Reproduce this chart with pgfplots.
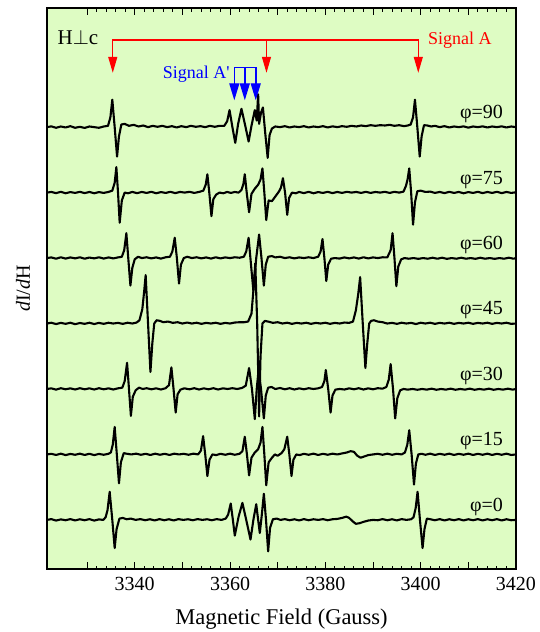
\documentclass[border=0pt]{standalone}
\usepackage{pgfplots}
\pgfplotsset{compat=1.18}
\usepackage{fontspec}
\setmainfont{Liberation Serif}
\usetikzlibrary{arrows.meta}
\definecolor{bg}{RGB}{222,252,195}
\begin{document}
\begin{tikzpicture}
\begin{axis}[
 scale only axis, width=469pt, height=561pt,
 xmin=3321.6, xmax=3420, ymin=-0.75, ymax=7.82,
 axis background/.style={fill=bg},
 axis line style={line width=1.3pt},
 xtick={3330,3340,...,3420},
 xticklabels={,3340,,3360,,3380,,3400,,3420},
 minor x tick num=4,
 tick align=inside,
 major tick length=7pt, minor tick length=3.5pt,
 every tick/.style={black, line width=1pt},
 ytick=\empty,
 xticklabel style={font=\fontsize{20}{24}\selectfont, yshift=-5pt},
 /pgf/number format/assume math mode=true,
 xlabel={Magnetic Field (Gauss)},
 xlabel style={font=\fontsize{22.5}{27}\selectfont, at={(axis description cs:0.5,-0.0891)}, anchor=center},
 ylabel={\textit{d}I/\textit{d}H},
 ylabel style={font=\fontsize{20}{24}\selectfont, at={(axis description cs:-0.0512,0.5)}, anchor=center},
 clip=true,
 trace/.style={black, line width=2.1pt, line join=round},
]
% phi = 90
\addplot[trace, y filter/.expression={y+6}] coordinates {
(3321.6,0.00)(3322.5,0.012)(3323.5,-0.01)(3324.5,0.01)(3325.5,-0.005)(3326.5,0.015)(3327.5,-0.01)(3328.5,0.005)(3329.5,-0.012)(3330.5,0.01)(3331.5,0.0)(3332.5,-0.01)(3333.5,0.01)(3334.4,0.02)(3334.9,0.15)(3335.3,0.42)(3335.8,0.0)(3336.3,-0.45)(3336.7,-0.14)(3337.2,0.04)(3337.9,0.05)(3338.8,0.02)(3339.8,0.035)(3340.8,0.01)(3341.8,0.025)(3342.8,0.0)(3343.8,0.02)(3344.8,0.005)(3345.8,0.02)(3346.8,0.0)(3347.8,0.015)(3348.8,-0.005)(3349.8,0.015)(3350.8,0.0)(3351.8,0.02)(3352.8,0.005)(3353.8,0.015)(3354.8,0.0)(3355.8,0.02)(3356.8,0.005)(3357.8,0.02)(3358.8,0.02)(3359.4,0.09)(3359.9,0.26)(3360.5,0.0)(3361.1,-0.24)(3361.7,0.05)(3362.4,0.28)(3363.2,0.02)(3363.9,-0.22)(3364.5,0.02)(3365.2,0.26)(3365.6,0.10)(3365.9,0.5)(3366.1,0.05)(3366.5,0.22)(3366.9,0.30)(3367.4,-0.1)(3367.9,-0.47)(3368.3,-0.12)(3368.8,-0.02)(3369.5,0.01)(3370.5,0.0)(3371.5,0.015)(3372.5,-0.005)(3373.5,0.01)(3374.5,0.0)(3375.5,0.015)(3376.5,-0.005)(3377.5,0.01)(3378.5,0.0)(3379.5,0.015)(3380.5,-0.005)(3381.5,0.012)(3382.5,0.0)(3383.5,0.015)(3384.5,0.005)(3385.5,0.02)(3386.5,0.01)(3387.5,0.025)(3388.5,0.015)(3389.5,0.03)(3390.5,0.02)(3391.5,0.03)(3392.5,0.025)(3393.5,0.035)(3394.5,0.02)(3395.5,0.03)(3396.5,0.015)(3397.3,0.025)(3397.9,0.04)(3398.4,0.15)(3398.8,0.42)(3399.3,0.0)(3399.8,-0.45)(3400.2,-0.14)(3400.7,0.03)(3401.4,0.025)(3402.2,0.01)(3403,0.02)(3404,0.0)(3405,0.015)(3406,-0.005)(3407,0.01)(3408,0.0)(3409,0.012)(3410,-0.008)(3411,0.01)(3412,0.0)(3413,0.012)(3414,-0.005)(3415,0.01)(3416,0.0)(3417,0.012)(3418,-0.005)(3419,0.01)(3420,0.0)
};
% phi = 75
\addplot[trace, y filter/.expression={y+5}] coordinates {
(3321.6,0.0)(3322.5,0.01)(3323.5,-0.008)(3324.5,0.012)(3325.5,-0.01)(3326.5,0.008)(3327.5,-0.005)(3328.5,0.012)(3329.5,-0.008)(3330.5,0.01)(3331.5,-0.01)(3332.5,0.008)(3333.5,-0.005)(3334.5,0.01)(3335.3,0.03)(3335.8,0.15)(3336.15,0.39)(3336.5,0.0)(3336.85,-0.46)(3337.3,-0.12)(3337.9,0.0)(3338.6,-0.01)(3339.5,0.01)(3340.5,-0.008)(3341.5,0.01)(3342.5,-0.005)(3343.5,0.012)(3344.5,-0.01)(3345.5,0.008)(3346.5,-0.005)(3347.5,0.012)(3348.5,-0.008)(3349.5,0.01)(3350.5,0.0)(3351.5,0.012)(3352.5,-0.005)(3353.5,0.01)(3354.4,0.03)(3354.9,0.12)(3355.25,0.28)(3355.65,0.0)(3356.1,-0.36)(3356.5,-0.1)(3357.1,-0.03)(3357.8,0.0)(3358.6,-0.01)(3359.4,0.01)(3360.2,-0.005)(3361,0.01)(3361.8,0.0)(3362.4,0.04)(3362.8,0.13)(3363.1,0.28)(3363.5,0.0)(3364.0,-0.30)(3364.5,-0.02)(3365.2,0.06)(3365.9,0.12)(3366.4,0.2)(3366.8,0.37)(3367.2,0.0)(3367.6,-0.42)(3368.1,-0.12)(3368.8,-0.13)(3369.6,-0.05)(3370.3,0.02)(3370.7,0.08)(3371.1,0.22)(3371.55,0.0)(3372.0,-0.34)(3372.4,-0.08)(3373.0,0.0)(3373.8,-0.01)(3374.5,0.01)(3375.5,-0.008)(3376.5,0.012)(3377.5,-0.01)(3378.5,0.008)(3379.5,-0.005)(3380.5,0.012)(3381.5,-0.008)(3382.5,0.01)(3383.5,-0.005)(3384.5,0.012)(3385.5,0.0)(3386.5,0.01)(3387.5,-0.005)(3388.5,0.012)(3389.5,-0.005)(3390.5,0.01)(3391.5,0.0)(3392.5,0.012)(3393.5,-0.005)(3394.5,0.012)(3395.5,0.0)(3396.4,0.015)(3396.9,0.1)(3397.25,0.2)(3397.6,0.37)(3398.0,0.0)(3398.4,-0.49)(3398.8,-0.15)(3399.3,0.02)(3400,0.03)(3401,0.01)(3402,0.015)(3403,-0.005)(3404,0.01)(3405,-0.008)(3406,0.012)(3407,-0.005)(3408,0.01)(3409,-0.01)(3410,0.008)(3411,-0.005)(3412,0.012)(3413,-0.008)(3414,0.01)(3415,-0.005)(3416,0.012)(3417,-0.008)(3418,0.01)(3419,-0.005)(3420,0.005)
};
% phi = 60
\addplot[trace, y filter/.expression={y+4}] coordinates {
(3321.6,0.0)(3322.5,0.01)(3323.5,-0.01)(3324.5,0.012)(3325.5,-0.008)(3326.5,0.01)(3327.5,-0.005)(3328.5,0.012)(3329.5,-0.01)(3330.5,0.008)(3331.5,-0.005)(3332.5,0.012)(3333.5,-0.008)(3334.5,0.01)(3335.5,-0.005)(3336.5,0.01)(3337.3,0.02)(3337.8,0.12)(3338.25,0.38)(3338.65,0.0)(3339.1,-0.42)(3339.5,-0.15)(3340.0,-0.02)(3340.7,0.02)(3341.5,0.0)(3342.5,0.012)(3343.5,-0.005)(3344.5,0.01)(3345.5,-0.008)(3346.5,0.012)(3347.4,0.02)(3347.9,0.1)(3348.4,0.31)(3348.85,0.0)(3349.3,-0.39)(3349.7,-0.1)(3350.3,0.0)(3351,0.02)(3352,0.0)(3353,0.012)(3354,-0.005)(3355,0.01)(3356,-0.008)(3357,0.012)(3358,-0.005)(3359,0.01)(3360,0.0)(3361,0.012)(3362,0.005)(3362.9,0.02)(3363.4,0.1)(3363.9,0.31)(3364.4,-0.1)(3364.9,-0.5)(3365.5,0.0)(3366.1,0.36)(3366.6,0.0)(3367.1,-0.42)(3367.5,-0.1)(3368.0,0.02)(3368.8,0.03)(3369.5,0.01)(3370.5,0.02)(3371.5,0.0)(3372.5,0.012)(3373.5,-0.005)(3374.5,0.01)(3375.5,0.0)(3376.5,0.012)(3377.5,0.0)(3378.5,0.02)(3379.0,0.1)(3379.4,0.29)(3379.8,0.0)(3380.2,-0.35)(3380.6,-0.1)(3381.2,-0.01)(3382,0.0)(3383,-0.008)(3384,0.01)(3385,-0.005)(3386,0.01)(3387,-0.008)(3388,0.012)(3389,-0.005)(3390,0.01)(3391,0.0)(3392,0.012)(3393,0.01)(3393.7,0.12)(3394.1,0.38)(3394.5,0.0)(3394.9,-0.43)(3395.3,-0.13)(3395.9,-0.02)(3396.6,0.0)(3397.5,-0.01)(3398.5,0.0)(3399.5,-0.012)(3400.5,0.0)(3401.5,-0.01)(3402.5,0.005)(3403.5,-0.01)(3404.5,0.005)(3405.5,-0.012)(3406.5,0.0)(3407.5,-0.01)(3408.5,0.005)(3409.5,-0.01)(3410.5,0.0)(3411.5,-0.012)(3412.5,0.005)(3413.5,-0.01)(3414.5,0.0)(3415.5,-0.012)(3416.5,0.0)(3417.5,-0.01)(3418.5,0.005)(3419.5,-0.01)(3420,0.0)
};
% phi = 45
\addplot[trace, y filter/.expression={y+3}] coordinates {
(3321.6,0.0)(3322.5,0.012)(3323.5,-0.008)(3324.5,0.01)(3325.5,-0.005)(3326.5,0.012)(3327.5,-0.01)(3328.5,0.008)(3329.5,-0.005)(3330.5,0.012)(3331.5,-0.008)(3332.5,0.01)(3333.5,-0.005)(3334.5,0.012)(3335.5,0.0)(3336.5,0.01)(3337.5,-0.005)(3338.5,0.012)(3339.5,0.0)(3340.4,0.015)(3341.0,0.05)(3341.6,0.22)(3342.0,0.5)(3342.3,0.74)(3342.8,0.0)(3343.3,-0.74)(3343.7,-0.3)(3344.1,0.0)(3344.6,0.05)(3345.3,0.04)(3346,0.02)(3347,0.03)(3348,0.01)(3349,0.02)(3350,0.0)(3351,0.015)(3352,0.0)(3353,0.012)(3354,-0.005)(3355,0.01)(3356,0.0)(3357,0.012)(3358,-0.005)(3359,0.01)(3360,0.0)(3361,0.015)(3362,0.02)(3363,0.02)(3363.8,0.03)(3364.5,0.15)(3364.9,0.5)(3365.3,0.92)(3365.7,0.0)(3366.1,-1.42)(3366.4,-0.5)(3366.8,0.0)(3367.3,0.04)(3368,0.03)(3369,0.01)(3370,0.02)(3371,0.0)(3372,0.012)(3373,-0.005)(3374,0.01)(3375,0.0)(3376,0.012)(3377,-0.005)(3378,0.01)(3379,0.0)(3380,0.012)(3381,-0.005)(3382,0.01)(3383,0.0)(3384,0.015)(3385,0.01)(3385.8,0.03)(3386.4,0.2)(3386.9,0.45)(3387.3,0.71)(3387.85,0.0)(3388.4,-0.68)(3388.8,-0.3)(3389.2,0.0)(3389.6,0.04)(3390.2,0.05)(3391,0.03)(3392,0.02)(3393,0.0)(3394,0.01)(3395,-0.005)(3396,0.012)(3397,0.0)(3398,0.01)(3399,-0.008)(3400,0.012)(3401,0.0)(3402,0.012)(3403,-0.005)(3404,0.01)(3405,0.0)(3406,0.012)(3407,-0.005)(3408,0.01)(3409,0.0)(3410,0.012)(3411,-0.005)(3412,0.01)(3413,0.0)(3414,0.012)(3415,-0.005)(3416,0.01)(3417,0.0)(3418,0.012)(3419,-0.005)(3420,0.0)
};
% phi = 30
\addplot[trace, y filter/.expression={y+2}] coordinates {
(3321.6,0.0)(3322.5,0.01)(3323.5,-0.01)(3324.5,0.012)(3325.5,-0.005)(3326.5,0.01)(3327.5,-0.008)(3328.5,0.012)(3329.5,-0.005)(3330.5,0.01)(3331.5,-0.008)(3332.5,0.012)(3333.5,-0.005)(3334.5,0.01)(3335.5,-0.008)(3336.5,0.01)(3337.4,0.02)(3337.9,0.12)(3338.4,0.40)(3338.8,0.0)(3339.2,-0.41)(3339.6,-0.12)(3340.2,-0.02)(3340.9,0.02)(3341.7,0.0)(3342.5,0.012)(3343.5,-0.005)(3344.5,0.01)(3345.5,-0.008)(3346.5,0.012)(3347.2,0.06)(3347.7,0.33)(3348.15,0.0)(3348.6,-0.36)(3349.0,-0.08)(3349.6,-0.01)(3350.4,0.01)(3351.5,-0.005)(3352.5,0.012)(3353.5,-0.008)(3354.5,0.01)(3355.5,-0.005)(3356.5,0.012)(3357.5,-0.008)(3358.5,0.01)(3359.5,0.0)(3360.5,0.012)(3361.5,0.0)(3362.5,0.015)(3363.3,0.05)(3364.0,0.32)(3364.6,0.0)(3365.2,-0.46)(3365.6,0.0)(3366.0,0.3)(3366.5,0.0)(3367.1,-0.45)(3367.5,-0.1)(3368.0,0.02)(3368.7,0.03)(3369.5,0.0)(3370.5,0.015)(3371.5,-0.005)(3372.5,0.012)(3373.5,-0.008)(3374.5,0.01)(3375.5,-0.005)(3376.5,0.012)(3377.5,0.0)(3378.5,0.01)(3379.3,0.03)(3379.8,0.12)(3380.1,0.29)(3380.6,0.0)(3381.1,-0.36)(3381.5,-0.1)(3382.1,-0.01)(3383,0.0)(3384,-0.008)(3385,0.01)(3386,-0.005)(3387,0.012)(3388,-0.008)(3389,0.01)(3390,-0.005)(3391,0.012)(3392,0.005)(3392.8,0.03)(3393.3,0.14)(3393.7,0.38)(3394.2,0.0)(3394.65,-0.45)(3395.1,-0.14)(3395.7,-0.02)(3396.4,0.0)(3397.3,-0.01)(3398.3,0.0)(3399.3,-0.012)(3400.3,0.0)(3401.3,-0.01)(3402.3,0.005)(3403.3,-0.012)(3404.3,0.0)(3405.3,-0.01)(3406.3,0.005)(3407.3,-0.012)(3408.3,0.0)(3409.3,-0.01)(3410.3,0.005)(3411.3,-0.012)(3412.3,0.0)(3413.3,-0.01)(3414.3,0.005)(3415.3,-0.012)(3416.3,0.0)(3417.3,-0.01)(3418.3,0.005)(3419.3,-0.01)(3420,0.0)
};
% phi = 15
\addplot[trace, y filter/.expression={y+1}] coordinates {
(3321.6,0.0)(3322.5,0.01)(3323.5,-0.008)(3324.5,0.012)(3325.5,-0.01)(3326.5,0.008)(3327.5,-0.005)(3328.5,0.012)(3329.5,-0.008)(3330.5,0.01)(3331.5,-0.01)(3332.5,0.008)(3333.5,-0.005)(3334.5,0.01)(3335.0,0.03)(3335.4,0.15)(3335.8,0.42)(3336.25,0.0)(3336.7,-0.44)(3337.1,-0.12)(3337.7,0.02)(3338.4,0.01)(3339.3,0.0)(3340.3,0.012)(3341.3,-0.005)(3342.3,0.01)(3343.3,-0.008)(3344.3,0.012)(3345.3,-0.005)(3346.3,0.01)(3347.3,-0.008)(3348.3,0.012)(3349.3,0.0)(3350.3,0.01)(3351.3,-0.005)(3352.3,0.012)(3353.3,0.0)(3353.9,0.06)(3354.35,0.28)(3354.8,0.0)(3355.25,-0.33)(3355.7,-0.08)(3356.3,0.0)(3357.1,-0.01)(3358,0.01)(3359,-0.005)(3360,0.012)(3361,-0.005)(3362,0.01)(3362.6,0.05)(3363.1,0.27)(3363.55,0.0)(3364.0,-0.32)(3364.5,-0.05)(3365.2,0.03)(3365.9,0.08)(3366.4,0.18)(3366.8,0.42)(3367.2,0.0)(3367.6,-0.47)(3368.1,-0.12)(3368.8,-0.05)(3369.4,0.0)(3370.0,-0.02)(3370.8,0.02)(3371.4,0.08)(3372.0,0.27)(3372.45,0.0)(3372.9,-0.33)(3373.3,-0.08)(3373.9,0.0)(3374.6,-0.01)(3375.5,0.01)(3376.5,-0.005)(3377.5,0.012)(3378.5,-0.008)(3379.5,0.01)(3380.5,-0.005)(3381.5,0.012)(3382.5,0.0)(3383.5,0.015)(3384.5,0.03)(3385.3,0.05)(3386.0,0.04)(3386.7,-0.02)(3387.4,-0.05)(3388.2,-0.03)(3389,-0.01)(3390,0.0)(3391,0.01)(3392,-0.005)(3393,0.012)(3394,-0.005)(3395,0.01)(3396,0.0)(3396.7,0.03)(3397.2,0.15)(3397.6,0.37)(3398.1,0.0)(3398.6,-0.46)(3399.0,-0.14)(3399.5,0.0)(3400.2,0.01)(3401,-0.005)(3402,0.012)(3403,-0.008)(3404,0.01)(3405,-0.005)(3406,0.012)(3407,-0.008)(3408,0.01)(3409,-0.005)(3410,0.012)(3411,-0.008)(3412,0.01)(3413,-0.005)(3414,0.012)(3415,-0.008)(3416,0.01)(3417,-0.005)(3418,0.012)(3419,-0.008)(3420,0.0)
};
% phi = 0
\addplot[trace] coordinates {
(3321.6,0.0)(3322.5,0.012)(3323.5,-0.01)(3324.5,0.008)(3325.5,-0.005)(3326.5,0.012)(3327.5,-0.008)(3328.5,0.01)(3329.5,-0.005)(3330.5,0.012)(3331.5,-0.01)(3332.5,0.008)(3333.4,0.0)(3333.9,0.04)(3334.3,0.15)(3334.75,0.43)(3335.3,0.0)(3335.8,-0.43)(3336.2,-0.14)(3336.8,0.02)(3337.5,0.03)(3338.3,0.01)(3339.2,0.02)(3340.2,0.0)(3341.2,0.012)(3342.2,-0.005)(3343.2,0.01)(3344.2,-0.008)(3345.2,0.012)(3346.2,-0.005)(3347.2,0.01)(3348.2,-0.008)(3349.2,0.012)(3350.2,0.0)(3351.2,0.01)(3352.2,-0.005)(3353.2,0.012)(3354.2,0.0)(3355.2,0.01)(3356.2,-0.005)(3357.2,0.012)(3358.2,0.0)(3359.1,0.02)(3359.6,0.08)(3360.15,0.25)(3360.6,0.0)(3361.0,-0.24)(3361.8,0.05)(3362.6,0.26)(3363.4,0.0)(3364.3,-0.30)(3364.9,0.0)(3365.5,0.24)(3365.9,0.0)(3366.25,-0.20)(3366.7,0.1)(3367.1,0.40)(3367.55,0.0)(3368.0,-0.48)(3368.4,-0.12)(3369.0,0.01)(3369.8,0.02)(3370.6,0.0)(3371.5,0.012)(3372.5,-0.005)(3373.5,0.01)(3374.5,-0.008)(3375.5,0.012)(3376.5,-0.005)(3377.5,0.01)(3378.5,0.0)(3379.5,0.012)(3380.5,-0.005)(3381.5,0.01)(3382.5,0.015)(3383.5,0.03)(3384.4,0.05)(3385.0,0.03)(3385.7,-0.02)(3386.4,-0.06)(3387.2,-0.05)(3388,-0.03)(3389,-0.01)(3390,0.0)(3391,-0.005)(3392,0.012)(3393,-0.005)(3394,0.01)(3395,-0.008)(3396,0.012)(3397,0.0)(3398,0.01)(3398.5,0.04)(3398.95,0.18)(3399.35,0.43)(3399.85,0.0)(3400.4,-0.43)(3400.8,-0.14)(3401.3,0.02)(3402,0.01)(3403,-0.005)(3404,0.012)(3405,-0.008)(3406,0.01)(3407,-0.005)(3408,0.012)(3409,-0.008)(3410,0.01)(3411,-0.005)(3412,0.012)(3413,-0.008)(3414,0.01)(3415,-0.005)(3416,0.012)(3417,-0.008)(3418,0.01)(3419,-0.005)(3420,0.0)
};
% annotations
\draw[red, line width=1.2pt] (axis cs:3335.4,7.05) -- (axis cs:3335.4,7.33) -- (axis cs:3399.5,7.33) -- (axis cs:3399.5,7.05);
\draw[red, line width=1.2pt] (axis cs:3367.65,7.33) -- (axis cs:3367.65,7.05);
\draw[red, line width=1.2pt, -{Triangle[length=16pt,width=9pt]}] (axis cs:3335.4,7.10) -- (axis cs:3335.4,6.83);
\draw[red, line width=1.2pt, -{Triangle[length=16pt,width=9pt]}] (axis cs:3367.65,7.10) -- (axis cs:3367.65,6.83);
\draw[red, line width=1.2pt, -{Triangle[length=16pt,width=9pt]}] (axis cs:3399.5,7.10) -- (axis cs:3399.5,6.83);
\draw[blue, line width=1.6pt] (axis cs:3360.9,6.60) -- (axis cs:3360.9,6.91) -- (axis cs:3365.4,6.91) -- (axis cs:3365.4,6.60);
\draw[blue, line width=1.6pt] (axis cs:3363.1,6.91) -- (axis cs:3363.1,6.60);
\draw[blue, line width=1.2pt, -{Triangle[length=17pt,width=10pt]}] (axis cs:3360.9,6.66) -- (axis cs:3360.9,6.41);
\draw[blue, line width=1.2pt, -{Triangle[length=17pt,width=10pt]}] (axis cs:3363.1,6.66) -- (axis cs:3363.1,6.41);
\draw[blue, line width=1.2pt, -{Triangle[length=17pt,width=10pt]}] (axis cs:3365.4,6.66) -- (axis cs:3365.4,6.41);
\node[anchor=west, font=\fontsize{21}{25}\selectfont, inner sep=0pt] at (axis cs:3323.8,7.37) {H$\perp$c};
\node[anchor=west, red, font=\fontsize{18}{22}\selectfont, inner sep=0pt] at (axis cs:3401.5,7.33) {Signal A};
\node[anchor=east, blue, font=\fontsize{18}{22}\selectfont, inner sep=0pt] at (axis cs:3359.95,6.81) {Signal A\textquotesingle};
\node[anchor=east, font=\fontsize{20}{24}\selectfont, inner sep=0pt] at (axis cs:3417.3,6.20) {φ=90};
\node[anchor=east, font=\fontsize{20}{24}\selectfont, inner sep=0pt] at (axis cs:3417.3,5.19) {φ=75};
\node[anchor=east, font=\fontsize{20}{24}\selectfont, inner sep=0pt] at (axis cs:3417.3,4.20) {φ=60};
\node[anchor=east, font=\fontsize{20}{24}\selectfont, inner sep=0pt] at (axis cs:3417.3,3.20) {φ=45};
\node[anchor=east, font=\fontsize{20}{24}\selectfont, inner sep=0pt] at (axis cs:3417.3,2.20) {φ=30};
\node[anchor=east, font=\fontsize{20}{24}\selectfont, inner sep=0pt] at (axis cs:3417.3,1.20) {φ=15};
\node[anchor=east, font=\fontsize{20}{24}\selectfont, inner sep=0pt] at (axis cs:3417.3,0.20) {φ=0};
\end{axis}
\pgfresetboundingbox
\path (-47pt,-63pt) rectangle (492pt,569pt);
\end{tikzpicture}
\end{document}
